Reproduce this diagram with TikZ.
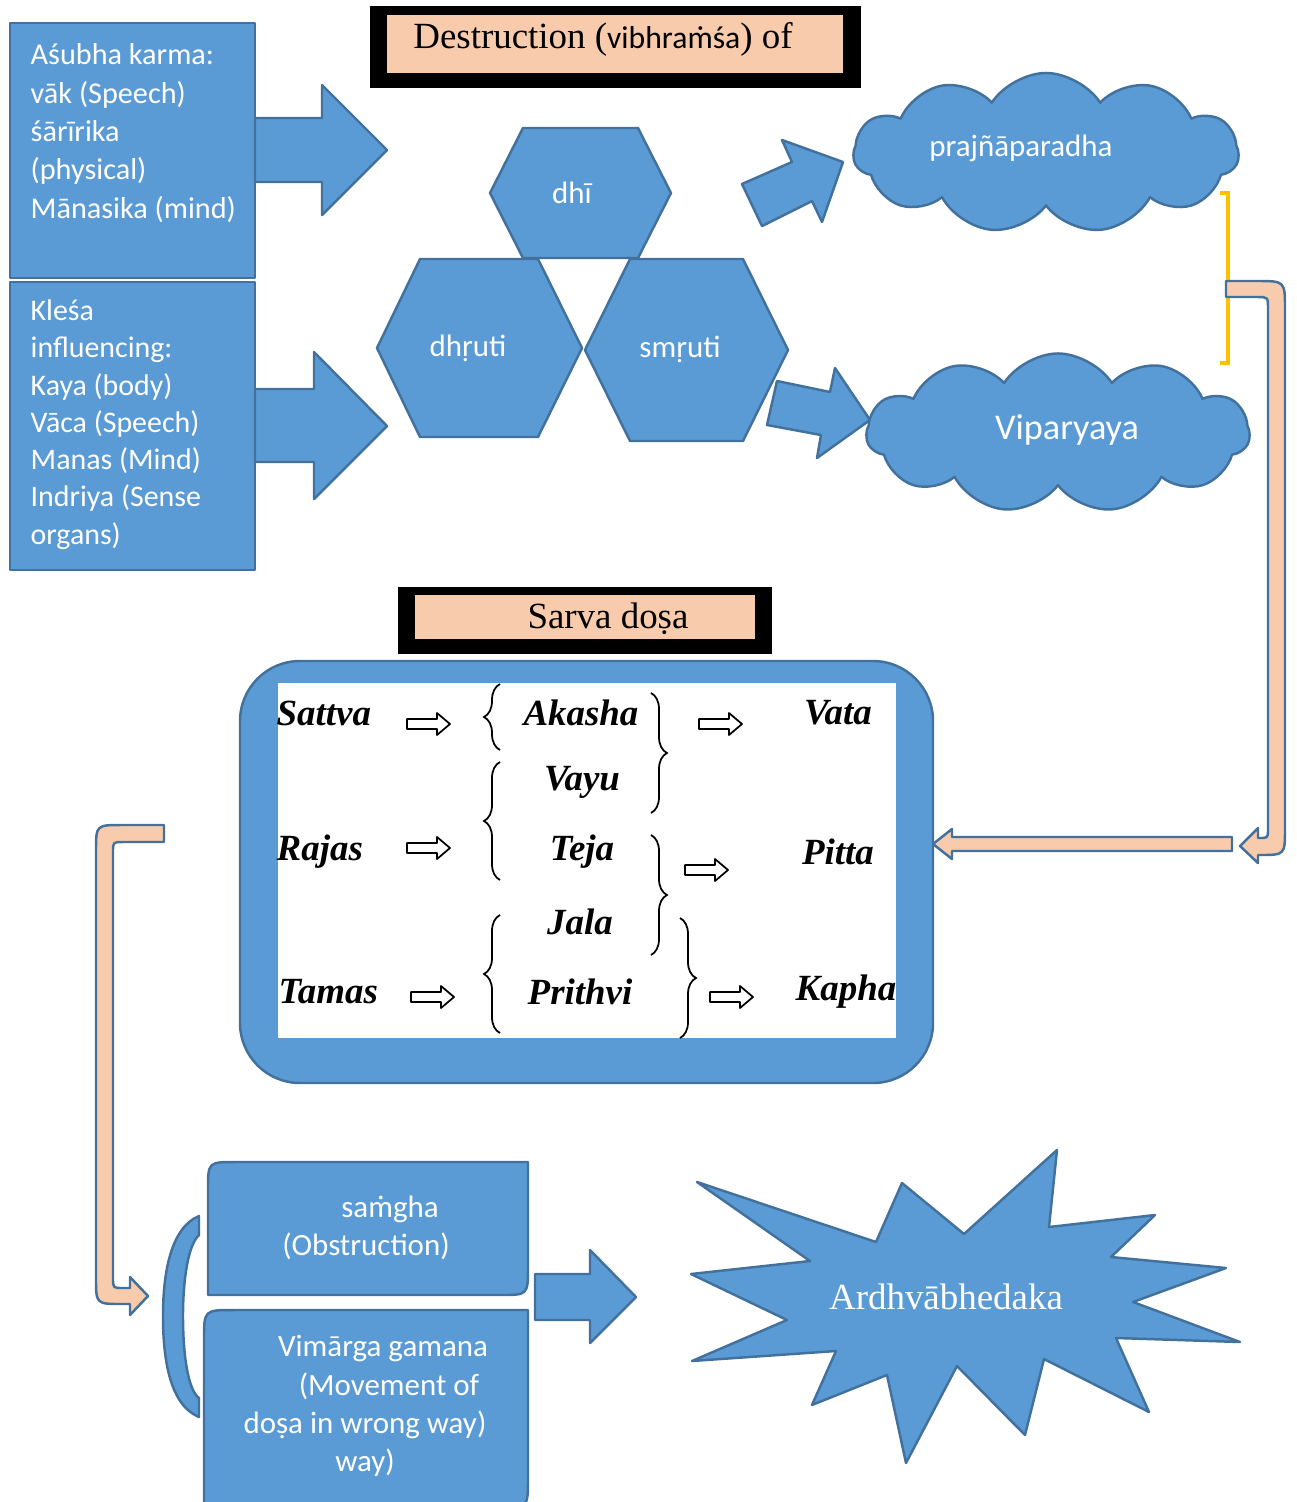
\documentclass[tikz,border=0pt]{standalone}
\usepackage{fontspec}
\setmainfont{Liberation Serif}
\newfontfamily\calib{Carlito}
\usepackage{xcolor}
\definecolor{ofblue}{RGB}{91,155,213}
\definecolor{ofline}{RGB}{65,113,156}
\definecolor{ofpeach}{RGB}{248,203,173}
\definecolor{ofgold}{RGB}{255,192,0}
\usetikzlibrary{shapes.symbols, decorations.pathreplacing}

\tikzset{
  blueshape/.style={fill=ofblue, draw=ofline, line width=0.7pt, line join=round},
  peachband/.style={fill=ofpeach, draw=ofline, line width=0.7pt, line join=round},
  cloudshape/.style={cloud, cloud puffs=11, cloud puff arc=115, aspect=2.4, blueshape, inner sep=0pt},
  whitetext/.style={text=white, font=\calib\fontsize{8.8}{10.9}\selectfont},
  titletext/.style={text=black, font=\fontsize{10.5}{12}\selectfont},
  dosatext/.style={text=black, font=\bfseries\itshape\fontsize{10.5}{12}\selectfont},
  hollowarrow/.style={draw=black, fill=white, line width=0.5pt, line join=round},
  bracestyle/.style={decorate, decoration={brace, amplitude=0.16cm}, draw=black, line width=0.5pt},
}

\begin{document}
\begin{tikzpicture}[x=0.01cm, y=-0.01cm]
\useasboundingbox (0,0) rectangle (1297,1502);

% === Cajas de la izquierda con flechas de bloque ===
\draw[blueshape] (10,23) rectangle (255,278);
\draw[blueshape] (255,118) -- (322,118) -- (322,85) -- (387,150) -- (322,215) -- (322,182) -- (255,182) -- cycle;
\node[whitetext, anchor=north west, align=left, inner sep=0pt,
      font=\calib\fontsize{8.6}{10.9}\selectfont] (asubha) at (30,43)
  {Aśubha karma:\\ vāk (Speech)\\ śārīrika\\ (physical)\\ Mānasika (mind)};

\draw[blueshape] (10,282) rectangle (255,570);
\draw[blueshape] (255,389) -- (314,389) -- (314,352) -- (387,426) -- (314,499) -- (314,462) -- (255,462) -- cycle;
\node[whitetext, anchor=north west, align=left, inner sep=0pt,
      font=\calib\fontsize{8.5}{10.6}\selectfont] (klesa) at (30,299)
  {Kleśa\\ influencing:\\ Kaya (body)\\ Vāca (Speech)\\ Manas (Mind)\\ Indriya (Sense\\ organs)};

% === Titulo superior ===
\fill[black] (370,6) rectangle (861,88);
\fill[ofpeach] (387,15) rectangle (843,73);
\node[titletext] (destr) at (603,39)
  {Destruction ({\calib\fontsize{9}{11}\selectfont vibhraṁśa}) of};

% === Hexagonos ===
\draw[blueshape] (490,193) -- (523,128) -- (638,128) -- (671,193) -- (638,258) -- (523,258) -- cycle;
\draw[blueshape] (377,348) -- (420,259) -- (538,259) -- (582,348) -- (538,437) -- (420,437) -- cycle;
\draw[blueshape] (585,350) -- (630,259) -- (743,259) -- (788,350) -- (743,441) -- (630,441) -- cycle;
\node[whitetext] (dhi) at (572,193) {dhī};
\node[whitetext] (dhruti) at (468,348) {dhṛuti};
\node[whitetext] (smruti) at (680,349) {smṛuti};

% flechas hacia las nubes
\draw[blueshape] (742,184) -- (792,162) -- (782,140) -- (843,162) -- (822,222) -- (812,201) -- (762,226) -- cycle;
\draw[blueshape] (777,381) -- (830,392) -- (835,368) -- (870,420) -- (817,458) -- (821,435) -- (767,425) -- cycle;

% === Nubes ===
\node[cloudshape, minimum width=3.85cm, minimum height=1.6cm] (cloudA) at (1046,153) {};
\node[whitetext] (praj) at (1021,148) {prajñāparadha};
\node[cloudshape, minimum width=3.83cm, minimum height=1.59cm] (cloudB) at (1058,433) {};
\node[whitetext, font=\calib\fontsize{10.3}{12}\selectfont] (vipar) at (1067,430) {Viparyaya};

% corchete dorado
\draw[ofgold, line width=0.9pt] (1220,193) -- (1228,193) -- (1228,363) -- (1220,363);

% flecha doblada derecha
\draw[peachband] (1226,281) -- (1257,281) .. controls (1285,281) .. (1285,309)
  -- (1285,829) .. controls (1285,855) .. (1259,855) -- (1258,855) -- (1258,863)
  -- (1240,846) -- (1258,828) -- (1258,838) -- (1259,838) .. controls (1268,838) .. (1268,829)
  -- (1268,309) .. controls (1268,297) .. (1257,297) -- (1226,297) -- cycle;

% flecha larga hacia la izquierda
\draw[peachband] (1232,837) -- (952,837) -- (952,829) -- (933,844) -- (952,859) -- (952,851) -- (1232,851) -- cycle;

% === Sarva dosa ===
\fill[black] (398,587) rectangle (772,654);
\fill[ofpeach] (415,595) rectangle (755,639);
\node[titletext] (sarva) at (608,619) {Sarva doṣa};

\draw[blueshape, rounded corners=0.6cm] (240,661) rectangle (933,1083);
\fill[white] (278,683) rectangle (896,1038);

% tabla de gunas, bhutas y doshas
\node[dosatext, anchor=west, inner sep=0pt] (sattva) at (276,713) {Sattva};
\node[dosatext, anchor=west, inner sep=0pt] (rajas) at (276,852) {Rajas};
\node[dosatext, anchor=west, inner sep=0pt] (tamas) at (278,992) {Tamas};
\node[dosatext] (akasha) at (581,713) {Akasha};
\node[dosatext] (vayu) at (582,782) {Vayu};
\node[dosatext] (teja) at (582,852) {Teja};
\node[dosatext] (jala) at (580,922) {Jala};
\node[dosatext] (prithvi) at (580,992) {Prithvi};
\node[dosatext] (vata) at (838,713) {Vata};
\node[dosatext] (pitta) at (838,852) {Pitta};
\node[dosatext] (kapha) at (846,992) {Kapha};

\foreach \ax/\ay in {407/724, 407/848, 411/997, 699/724, 685/870, 710/997} {
  \draw[hollowarrow, shift={(\ax,\ay)}] (0,-5) -- (30,-5) -- (30,-11) -- (43,0) -- (30,11) -- (30,5) -- (0,5) -- cycle;
}

% llaves
\draw[bracestyle] (500,750) -- (500,684);
\draw[bracestyle] (500,880) -- (500,762);
\draw[bracestyle] (500,1033) -- (500,915);
\draw[bracestyle] (651,693) -- (651,813);
\draw[bracestyle] (651,835) -- (651,955);
\draw[bracestyle] (680,918) -- (680,1038);

% flecha doblada izquierda
\draw[peachband] (164,825) -- (122,825) .. controls (96,825) .. (96,851)
  -- (96,1278) .. controls (96,1304) .. (122,1304) -- (130,1304) -- (130,1315)
  -- (148,1296) -- (130,1277) -- (130,1288) -- (123,1288) .. controls (113,1288) .. (113,1278)
  -- (113,852) .. controls (113,842) .. (123,842) -- (164,842) -- cycle;

% === Parte inferior ===
\draw[blueshape] (199,1216) .. controls (170,1228) and (163,1275) .. (163,1316)
  .. controls (163,1360) and (170,1405) .. (199,1417) -- (199,1398)
  .. controls (188,1390) and (183,1355) .. (183,1316)
  .. controls (183,1280) and (188,1245) .. (199,1235) -- cycle;

\draw[blueshape] (208,1295) -- (208,1190) .. controls (208,1162) .. (236,1162) -- (528,1162)
  -- (528,1267) .. controls (528,1295) .. (500,1295) -- cycle;
\node[whitetext, align=center] (samgha) at (366,1228)
  {\hspace*{0.48cm}saṁgha\\ (Obstruction)};

\draw[blueshape] (204,1520) -- (204,1340) .. controls (204,1310) .. (234,1310) -- (528,1310)
  -- (528,1478) .. controls (528,1508) .. (498,1508) -- (204,1508);
\node[whitetext, align=center] (vimarga) at (365,1406)
  {\hspace*{0.36cm}Vimārga gamana\\ \hspace*{0.48cm}(Movement of\\ doṣa in wrong way)\\ way)};

\draw[blueshape] (535,1274) -- (590,1274) -- (590,1250) -- (636,1297) -- (590,1343) -- (590,1320) -- (535,1320) -- cycle;

% estrella
\draw[blueshape] (697,1182) -- (876,1242) -- (902,1183) -- (964,1234) -- (1057,1150) -- (1049,1227)
  -- (1155,1215) -- (1111,1257) -- (1226,1268) -- (1133,1302) -- (1240,1342) -- (1116,1338)
  -- (1149,1412) -- (1044,1359) -- (1025,1435) -- (957,1366) -- (906,1463) -- (887,1375)
  -- (812,1405) -- (836,1351) -- (692,1361) -- (787,1320) -- (691,1274) -- (810,1261) -- cycle;
\node[titletext, text=white] (ardha) at (946,1297) {Ardhvābhedaka};

\end{tikzpicture}
\end{document}
